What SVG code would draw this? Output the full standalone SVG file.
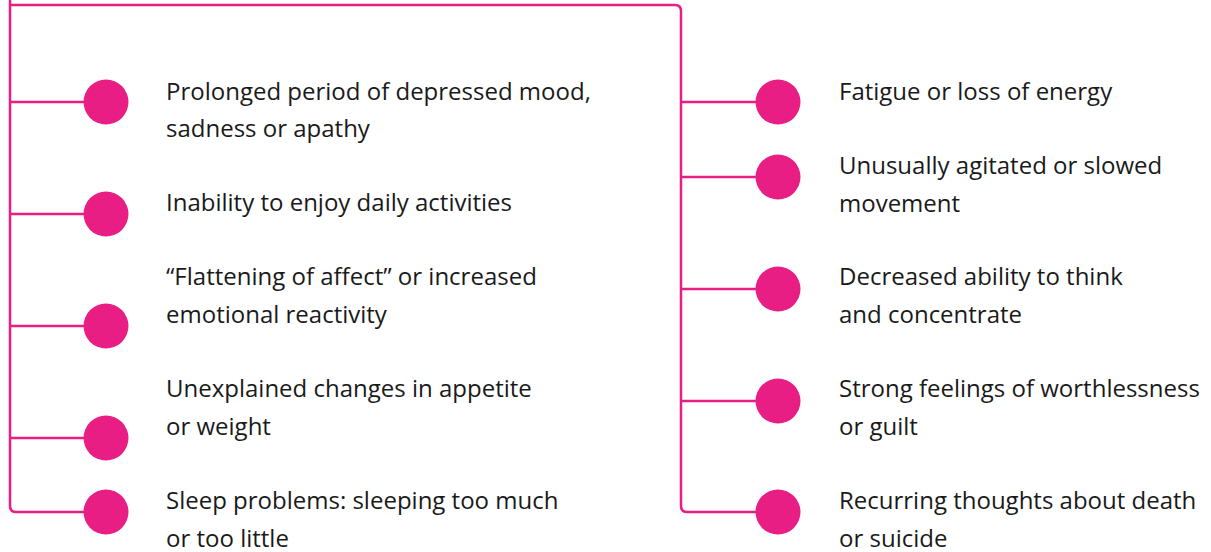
<svg xmlns="http://www.w3.org/2000/svg" width="1211" height="552" viewBox="0 0 1211 552">
  <style>
    .wire { fill: none; stroke: #E91E84; stroke-width: 2.5; stroke-linejoin: round; }
    .dot { fill: #E91E84; }
    .label { font-family: "Open Sans", Lato, sans-serif; font-size: 24px; fill: #1a1a1a; }
  </style>

  <!-- bracket lines and branches -->
  <g id="connectors">
    <!-- left spine -->
    <path class="wire" d="M10,0 V506 Q10,512 16,512 H106"/>
    <!-- top bar and right spine -->
    <path class="wire" d="M10,5 H675 Q681,5 681,11 V506 Q681,512 687,512 H778"/>
    <!-- left branches -->
    <path class="wire" d="M10,102 H106 M10,214 H106 M10,326 H106 M10,438 H106"/>
    <!-- right branches -->
    <path class="wire" d="M681,102 H778 M681,177 H778 M681,289 H778 M681,401 H778"/>
  </g>

  <!-- left column -->
  <g id="node-mood">
    <circle class="dot" cx="106" cy="102" r="22.5"/>
    <text class="label" x="166" y="100">Prolonged period of depressed mood,</text>
    <text class="label" x="166" y="137">sadness or apathy</text>
  </g>
  <g id="node-enjoy">
    <circle class="dot" cx="106" cy="214" r="22.5"/>
    <text class="label" x="166" y="211">Inability to enjoy daily activities</text>
  </g>
  <g id="node-affect">
    <circle class="dot" cx="106" cy="326" r="22.5"/>
    <text class="label" x="166" y="285">“Flattening of affect” or increased</text>
    <text class="label" x="166" y="323">emotional reactivity</text>
  </g>
  <g id="node-appetite">
    <circle class="dot" cx="106" cy="438" r="22.5"/>
    <text class="label" x="166" y="397">Unexplained changes in appetite</text>
    <text class="label" x="166" y="435">or weight</text>
  </g>
  <g id="node-sleep">
    <circle class="dot" cx="106" cy="512" r="22.5"/>
    <text class="label" x="166" y="509">Sleep problems: sleeping too much</text>
    <text class="label" x="166" y="547">or too little</text>
  </g>

  <!-- right column -->
  <g id="node-fatigue">
    <circle class="dot" cx="778" cy="102" r="22.5"/>
    <text class="label" x="839" y="100">Fatigue or loss of energy</text>
  </g>
  <g id="node-movement">
    <circle class="dot" cx="778" cy="177" r="22.5"/>
    <text class="label" x="839" y="174">Unusually agitated or slowed</text>
    <text class="label" x="839" y="212">movement</text>
  </g>
  <g id="node-concentrate">
    <circle class="dot" cx="778" cy="289" r="22.5"/>
    <text class="label" x="839" y="285">Decreased ability to think</text>
    <text class="label" x="839" y="323">and concentrate</text>
  </g>
  <g id="node-worth">
    <circle class="dot" cx="778" cy="401" r="22.5"/>
    <text class="label" x="839" y="397">Strong feelings of worthlessness</text>
    <text class="label" x="839" y="435">or guilt</text>
  </g>
  <g id="node-death">
    <circle class="dot" cx="778" cy="512" r="22.5"/>
    <text class="label" x="839" y="509">Recurring thoughts about death</text>
    <text class="label" x="839" y="547">or suicide</text>
  </g>
</svg>
